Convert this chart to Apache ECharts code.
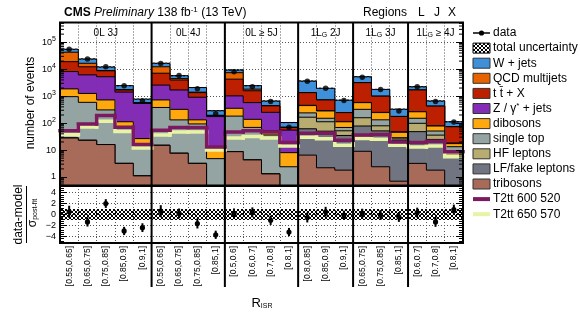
<!DOCTYPE html>
<html>
<head>
<meta charset="utf-8">
<script src="https://cdn.jsdelivr.net/npm/echarts@6/dist/echarts.min.js"></script>
<style>
html,body{margin:0;padding:0;background:#fff}
#chart{width:580px;height:326px}
</style>
</head>
<body>
<div id="chart"></div>
<script>
// R_ISR bins, grouped by lepton / jet region
var binLabels = [
  '[0.55,0.65]','[0.65,0.75]','[0.75,0.85]','[0.85,0.9]','[0.9,1]',
  '[0.55,0.65]','[0.65,0.75]','[0.75,0.85]','[0.85,1]',
  '[0.5,0.6]','[0.6,0.7]','[0.7,0.8]','[0.8,1]',
  '[0.8,0.85]','[0.85,0.9]','[0.9,1]',
  '[0.65,0.75]','[0.75,0.85]','[0.85,1]',
  '[0.6,0.7]','[0.7,0.8]','[0.8,1]'
]
var regionNames = ['0L 3J','0L 4J','0L \u2265 5J','1L_G 2J','1L_G 3J','1L_G \u2265 4J']
var regionBins = [5, 4, 4, 3, 3, 3]

// post-fit background yields per bin
var wJets         = [12300, 7390, 3190, 717, 200, 4290, 1290, 680, 93, 1920, 635, 215, 34, 2280, 1230, 460, 2080, 775, 150, 536, 234, 38]
var qcdMultijets  = [23600, 4290, 200, 40, 13, 5220, 490, 60, 5, 3150, 235, 10, 2, 5, 3, 3, 10, 3, 2, 5, 2, 1]
var ttX           = [10900, 6140, 3470, 285, 25, 4510, 2280, 437, 16, 3240, 1010, 185, 14, 890, 434, 130, 2580, 750, 128, 1430, 347, 55]
var zJets         = [6300, 4900, 4520, 1300, 510, 1850, 1370, 780, 161, 670, 437, 200, 47, 10, 8, 3, 10, 5, 2, 5, 2, 1]
var dibosons      = [900, 670, 415, 49, 11.5, 344, 192, 39, 8.6, 173, 69, 15, 5.6, 207, 131, 43, 250, 113, 17, 112, 27, 4]
var singleTop     = [930, 566, 293, 60, 14, 365, 124, 90, 4.5, 173, 65, 35, 2.2, 74, 39, 17, 166, 53, 3, 53, 15, 4]
var hfLeptons     = [0, 0, 0, 0, 0, 0, 0, 0, 0, 0, 0, 0, 0, 104, 62, 17, 80, 28, 3, 50, 11, 4]
var lfFakeLeptons = [0, 0, 0, 0, 0, 0, 0, 0, 0, 0, 0, 0, 0, 55, 48, 33, 69, 49, 22, 45, 23, 5]
var tribosons     = [28, 23, 16, 3.2, 1.1, 15, 7.6, 3.2, 0.3, 8.7, 4.3, 1.3, 0.2, 6.5, 2.2, 1.8, 9, 2.4, 0.7, 3.2, 1.8, 0.3]

var observed = [55000, 24000, 12300, 2450, 660, 16200, 5800, 1900, 220, 8100, 2240, 630, 70, 3600, 1950, 690, 5000, 1780, 280, 2240, 630, 110]

// signal benchmarks (not stacked)
var t2tt600 = [52, 93, 190, 70, 16, 54, 68, 68, 13, 47, 52, 47, 19, 42, 42, 23, 36, 38, 20, 19, 21, 8.7]
var t2tt650 = [37, 71, 117, 49, 12, 36, 47, 47, 10, 28, 32, 28, 14, 30, 26, 15, 27, 25, 15, 13, 14, 5.7]

// (data - model) / sigma
var pulls      = [0.5, -1.35, 2.0, -3.0, -2.4, 0.6, 0.2, -1.65, -3.7, 0.2, 0.4, -1.05, -3.2, -0.55, 0.5, -0.1, 0.15, -0.1, -0.45, 0.35, -1.35, 0.9]
var pullErrors = [1.1, 0.85, 0.8, 0.75, 0.8, 1.1, 0.9, 0.9, 0.75, 0.9, 0.9, 0.85, 0.75, 0.9, 0.9, 0.8, 0.9, 0.9, 0.9, 0.9, 0.9, 0.9]
var pullBand = 1
var relUnc = 0.05

var FONT = '"Liberation Sans", Arial, Helvetica, sans-serif'
var yMin = 0.484, yMax = 5.4e5

var chart = echarts.init(document.getElementById('chart'))

// cross hatch used for the uncertainty bands
var hatch = document.createElement('canvas')
hatch.width = 4; hatch.height = 4
var hctx = hatch.getContext('2d')
hctx.fillStyle = '#000'
for (var k = 0; k < 4; k++) { hctx.fillRect(k, k, 1, 1); hctx.fillRect(3 - k, k, 1, 1) }
var hatchFill = {image: hatch, repeat: 'repeat'}

// legend order = top of the stack first
var processes = [
  {name: 'W + jets',        color: '#3f90da', yields: wJets},
  {name: 'QCD multijets',   color: '#e76300', yields: qcdMultijets},
  {name: 't t\u0304 + X',   color: '#bd1f01', yields: ttX},
  {name: 'Z / \u03b3{sup|*} + jets', color: '#832db6', yields: zJets},
  {name: 'dibosons',        color: '#ffa90e', yields: dibosons},
  {name: 'single top',      color: '#94a4a2', yields: singleTop},
  {name: 'HF leptons',      color: '#b9ac70', yields: hfLeptons},
  {name: 'LF/fake leptons', color: '#717581', yields: lfFakeLeptons},
  {name: 'tribosons',       color: '#a96b59', yields: tribosons}
]
var signals = [
  {name: 'T2tt 600 520', color: '#7b1a5e', values: t2tt600},
  {name: 'T2tt 650 570', color: '#e8f3a6', values: t2tt650}
]

processes.forEach(function (p, k) {
  p.tops = binLabels.map(function (_, i) {
    var s = 0
    for (var j = k; j < processes.length; j++) s += processes[j].yields[i]
    return s
  })
})
var modelTotal = processes[0].tops

var regionStart = []
regionBins.reduce(function (acc, n) { regionStart.push(acc); return acc + n }, 0)

function richName(s) { return s.replace(/_(\w)/, '{sub|$1}') }

// cumulative histogram, filled from the axis floor with a black step outline
function stepFill(tops, color) {
  return function (params, api) {
    var i = api.value(0)
    var w = api.size([1, 1])[0]
    var top = api.coord([i, Math.max(api.value(1), yMin)])
    var bot = api.coord([i, yMin])
    var x0 = top[0] - w / 2
    var kids = [
      {type: 'rect', shape: {x: x0, y: top[1], width: w + 0.5, height: bot[1] - top[1]}, style: {fill: color}},
      {type: 'line', shape: {x1: x0, y1: top[1], x2: x0 + w, y2: top[1]}, style: {stroke: '#000', lineWidth: 1}}
    ]
    if (i > 0) {
      var prev = api.coord([i - 1, Math.max(tops[i - 1], yMin)])
      kids.push({type: 'line', shape: {x1: x0, y1: prev[1], x2: x0, y2: top[1]}, style: {stroke: '#000', lineWidth: 1}})
    }
    return {type: 'group', children: kids}
  }
}

function stepLine(vals, color) {
  return function (params, api) {
    var i = api.value(0)
    var w = api.size([1, 1])[0]
    var p = api.coord([i, api.value(1)])
    var x0 = p[0] - w / 2
    var pts = []
    if (i > 0) pts.push([x0, api.coord([i - 1, vals[i - 1]])[1]])
    pts.push([x0, p[1]], [x0 + w, p[1]])
    return {type: 'polyline', shape: {points: pts}, style: {stroke: color, lineWidth: 3.5, fill: null, lineCap: 'square'}}
  }
}

function frameRender(extra) {
  return function (params, api) {
    var cs = params.coordSys
    var w = api.size([1, 1])[0]
    var kids = [{type: 'rect', shape: {x: cs.x, y: cs.y, width: cs.width, height: cs.height},
      style: {fill: null, stroke: '#000', lineWidth: 2}}]
    regionStart.slice(1).forEach(function (b) {
      var x = api.coord([b, 1])[0] - w / 2
      kids.push({type: 'line', shape: {x1: x, y1: cs.y, x2: x, y2: cs.y + cs.height + extra},
        style: {stroke: '#000', lineWidth: 2}})
    })
    return {type: 'group', children: kids}
  }
}

// log minor ticks (2..9 per decade) on both sides
var minorVals = []
for (var e = -1; e <= 5; e++) for (var m = 2; m <= 9; m++) {
  var v = m * Math.pow(10, e)
  if (v > yMin && v < yMax) minorVals.push(v)
}

var series = []
processes.forEach(function (p) {
  series.push({
    type: 'custom', name: p.name, xAxisIndex: 0, yAxisIndex: 0, z: 2,
    data: p.tops.map(function (t, i) { return [i, t] }),
    renderItem: stepFill(p.tops, p.color)
  })
})
series.push({
  type: 'custom', name: 'total uncertainty', xAxisIndex: 0, yAxisIndex: 0, z: 3,
  data: modelTotal.map(function (t, i) { return [i, t] }),
  renderItem: function (params, api) {
    var i = api.value(0), w = api.size([1, 1])[0]
    var hi = api.coord([i, api.value(1) * (1 + relUnc)])
    var lo = api.coord([i, api.value(1) * (1 - relUnc)])
    return {type: 'rect', shape: {x: hi[0] - w / 2, y: hi[1], width: w, height: lo[1] - hi[1]}, style: {fill: hatchFill}}
  }
})
signals.slice().reverse().forEach(function (s) {
  series.push({
    type: 'custom', name: s.name, xAxisIndex: 0, yAxisIndex: 0, z: 4,
    data: s.values.map(function (v, i) { return [i, v] }),
    renderItem: stepLine(s.values, s.color)
  })
})
series.push({
  type: 'scatter', name: 'data', xAxisIndex: 0, yAxisIndex: 0, z: 5,
  symbol: 'circle', symbolSize: 5.5, itemStyle: {color: '#000'},
  data: observed.map(function (v, i) { return [i, v] })
})
series.push({
  type: 'custom', xAxisIndex: 0, yAxisIndex: 0, z: 6,
  data: regionNames.map(function (n, k) { return [regionStart[k], 1, k] }),
  renderItem: function (params, api) {
    var k = api.value(2)
    var a = api.coord([regionStart[k], 1])[0]
    var b = api.coord([regionStart[k] + regionBins[k] - 1, 1])[0]
    return {type: 'text', x: (a + b) / 2, y: params.coordSys.y + 11,
      style: {text: richName(regionNames[k]), fill: '#000', font: '10px ' + FONT, align: 'center', verticalAlign: 'middle',
        rich: {sub: {fontSize: 7, fontFamily: FONT, verticalAlign: 'bottom', padding: [4, 0, 0, 0]}}}}
  }
})
series.push({
  type: 'custom', xAxisIndex: 0, yAxisIndex: 0, z: 10,
  data: minorVals.map(function (v) { return [0, v] }),
  renderItem: function (params, api) {
    var cs = params.coordSys
    var y = api.coord([0, api.value(1)])[1]
    return {type: 'group', children: [
      {type: 'line', shape: {x1: cs.x, y1: y, x2: cs.x + 4, y2: y}, style: {stroke: '#000', lineWidth: 1}},
      {type: 'line', shape: {x1: cs.x + cs.width - 4, y1: y, x2: cs.x + cs.width, y2: y}, style: {stroke: '#000', lineWidth: 1}}
    ]}
  }
})
series.push({type: 'custom', xAxisIndex: 0, yAxisIndex: 0, z: 10, data: [[0, 1]], renderItem: frameRender(0)})

// pull panel
series.push({
  type: 'custom', xAxisIndex: 1, yAxisIndex: 3, z: 3,
  data: binLabels.map(function (_, i) { return [i, 0] }),
  renderItem: function (params, api) {
    var i = api.value(0), w = api.size([1, 1])[0]
    var hi = api.coord([i, pullBand]), lo = api.coord([i, -pullBand])
    return {type: 'rect', shape: {x: hi[0] - w / 2, y: hi[1], width: w + 0.5, height: lo[1] - hi[1]}, style: {fill: hatchFill}}
  }
})
series.push({
  type: 'custom', xAxisIndex: 1, yAxisIndex: 3, z: 5,
  data: pulls.map(function (v, i) { return [i, v, pullErrors[i]] }),
  renderItem: function (params, api) {
    var i = api.value(0), v = api.value(1), err = api.value(2)
    var c = api.coord([i, v]), hi = api.coord([i, v + err]), lo = api.coord([i, v - err])
    return {type: 'group', children: [
      {type: 'line', shape: {x1: c[0], y1: hi[1], x2: c[0], y2: lo[1]}, style: {stroke: '#000', lineWidth: 2}},
      {type: 'circle', shape: {cx: c[0], cy: c[1], r: 2.6}, style: {fill: '#000'}}
    ]}
  }
})
series.push({type: 'custom', xAxisIndex: 1, yAxisIndex: 3, z: 10, data: [[0, 0]], renderItem: frameRender(44)})

var dotted = {show: true, interval: 0, lineStyle: {color: '#555', width: 1, type: [1, 2]}}
var hidden = {show: false}

// legend block
var legendRows = [{name: 'data', kind: 'marker'}, {name: 'total uncertainty', kind: 'hatch'}]
  .concat(processes.map(function (p) { return {name: p.name, kind: 'box', color: p.color} }))
  .concat(signals.map(function (s) { return {name: s.name, kind: 'line', color: s.color} }))

var graphics = []
legendRows.forEach(function (r, k) {
  var y = 33 + 15.1 * k
  if (r.kind === 'marker') {
    graphics.push({type: 'line', shape: {x1: 473, y1: y, x2: 490, y2: y}, style: {stroke: '#000', lineWidth: 1.5}})
    graphics.push({type: 'circle', shape: {cx: 481.5, cy: y, r: 2.6}, style: {fill: '#000'}})
  } else if (r.kind === 'hatch') {
    graphics.push({type: 'rect', shape: {x: 473, y: y - 5, width: 17, height: 10}, style: {fill: hatchFill, stroke: '#000', lineWidth: 1}})
  } else if (r.kind === 'box') {
    graphics.push({type: 'rect', shape: {x: 473, y: y - 5, width: 17, height: 10}, style: {fill: r.color, stroke: '#333', lineWidth: 1}})
  } else {
    graphics.push({type: 'rect', shape: {x: 473, y: y - 2, width: 17, height: 4}, style: {fill: r.color}})
  }
  graphics.push({type: 'text', x: 493, y: y, style: {text: r.name, fill: '#000', font: '12px ' + FONT,
    align: 'left', verticalAlign: 'middle', textAlign: 'left', textVerticalAlign: 'middle',
    rich: {sup: {fontSize: 8, fontFamily: FONT, verticalAlign: 'top', padding: [0, 0, 5, 0]}}}})
})

// header and axis titles
graphics.push({type: 'text', x: 64, y: 13, style: {
  text: '{b|CMS} {i|Preliminary} 138 fb{sup|-1} (13 TeV)', fill: '#000', font: '12px ' + FONT,
  verticalAlign: 'middle', textVerticalAlign: 'middle',
  rich: {b: {fontWeight: 'bold', fontSize: 12, fontFamily: FONT}, i: {fontStyle: 'italic', fontSize: 12, fontFamily: FONT},
    sup: {fontSize: 8, fontFamily: FONT, verticalAlign: 'top', padding: [0, 0, 6, 0]}}}})
;[['Regions', 363], ['L', 418], ['J', 434], ['X', 448]].forEach(function (t) {
  graphics.push({type: 'text', x: t[1], y: 13, style: {text: t[0], fill: '#000', font: '12px ' + FONT,
    verticalAlign: 'middle', textVerticalAlign: 'middle'}})
})
graphics.push({type: 'text', x: 31, y: 103, rotation: Math.PI / 2, style: {text: 'number of events', fill: '#000',
  font: '12px ' + FONT, align: 'center', verticalAlign: 'middle', textAlign: 'center', textVerticalAlign: 'middle'}})
graphics.push({type: 'text', x: 19, y: 214.5, rotation: Math.PI / 2, style: {text: 'data-model', fill: '#000',
  font: '12px ' + FONT, align: 'center', verticalAlign: 'middle', textAlign: 'center', textVerticalAlign: 'middle'}})
graphics.push({type: 'line', shape: {x1: 26.5, y1: 186, x2: 26.5, y2: 243}, style: {stroke: '#000', lineWidth: 1}})
graphics.push({type: 'text', x: 33, y: 213, rotation: Math.PI / 2, style: {text: '\u03c3{sub|post-fit}', fill: '#000',
  font: '12px ' + FONT, align: 'center', verticalAlign: 'middle', textAlign: 'center', textVerticalAlign: 'middle',
  rich: {sub: {fontSize: 7, fontFamily: FONT, verticalAlign: 'bottom', padding: [5, 0, 0, 0]}}}})
graphics.push({type: 'text', x: 262, y: 303, style: {text: 'R{sub|ISR}', fill: '#000', font: '13px ' + FONT,
  align: 'center', verticalAlign: 'middle', textAlign: 'center', textVerticalAlign: 'middle',
  rich: {sub: {fontSize: 7, fontFamily: FONT, verticalAlign: 'bottom', padding: [5, 0, 0, 0]}}}})

function logLabel(value) {
  var l = Math.log10(value), e = Math.round(l)
  if (Math.abs(l - e) > 1e-6) return ''
  if (e === 0) return '1'
  if (e === 1) return '10'
  return '10{sup|' + e + '}'
}

var option = {
  animation: false,
  backgroundColor: '#fff',
  textStyle: {fontFamily: FONT},
  grid: [
    {left: 60, top: 22.5, width: 403, height: 163, outerBoundsMode: 'none', containLabel: false},
    {left: 60, top: 186, width: 403, height: 57, outerBoundsMode: 'none', containLabel: false}
  ],
  xAxis: [
    {type: 'category', gridIndex: 0, data: binLabels, axisLine: hidden, axisTick: hidden, axisLabel: hidden, splitLine: dotted},
    {type: 'category', gridIndex: 1, data: binLabels, axisLine: hidden,
      axisTick: {show: true, inside: true, length: 3, interval: 0, lineStyle: {color: '#000'}},
      axisLabel: {interval: 0, rotate: 90, fontSize: 8.5, fontFamily: FONT, color: '#000', margin: 3},
      splitLine: dotted}
  ],
  yAxis: [
    {type: 'log', gridIndex: 0, position: 'left', min: yMin, max: yMax, axisLine: hidden, axisTick: hidden, axisLabel: hidden, splitLine: dotted},
    {type: 'log', gridIndex: 0, position: 'left', min: yMin, max: yMax, z: 10, axisLine: hidden, splitLine: hidden,
      axisTick: {show: true, inside: true, length: 7, lineStyle: {color: '#000'}},
      axisLabel: {formatter: logLabel, color: '#000', fontSize: 9, fontFamily: FONT, margin: 4, showMinLabel: false, showMaxLabel: false,
        rich: {sup: {fontSize: 7, fontFamily: FONT, color: '#000', verticalAlign: 'top', padding: [0, 0, 6, 0]}}}},
    {type: 'log', gridIndex: 0, position: 'right', min: yMin, max: yMax, z: 10, axisLine: hidden, splitLine: hidden, axisLabel: hidden,
      axisTick: {show: true, inside: true, length: 7, lineStyle: {color: '#000'}}},
    {type: 'value', gridIndex: 1, position: 'left', min: -5.2, max: 5.2, axisLine: hidden, splitLine: {show: true, lineStyle: {color: '#555', width: 1, type: [1, 2]}},
      axisTick: {show: true, inside: true, length: 7, lineStyle: {color: '#000'}},
      minorTick: {show: true, splitNumber: 5, length: 4, lineStyle: {color: '#000'}},
      axisLabel: {color: '#000', fontSize: 9, fontFamily: FONT, margin: 4, showMinLabel: false, showMaxLabel: false,
        formatter: function (v) { return v < 0 ? '\u2212' + (-v) : '' + v }}},
    {type: 'value', gridIndex: 1, position: 'right', min: -5.2, max: 5.2, z: 10, axisLine: hidden, splitLine: hidden, axisLabel: hidden,
      axisTick: {show: true, inside: true, length: 7, lineStyle: {color: '#000'}},
      minorTick: {show: true, splitNumber: 5, length: 4, lineStyle: {color: '#000'}}}
  ],
  graphic: {elements: graphics},
  series: series
}

chart.setOption(option)
</script>
</body>
</html>
